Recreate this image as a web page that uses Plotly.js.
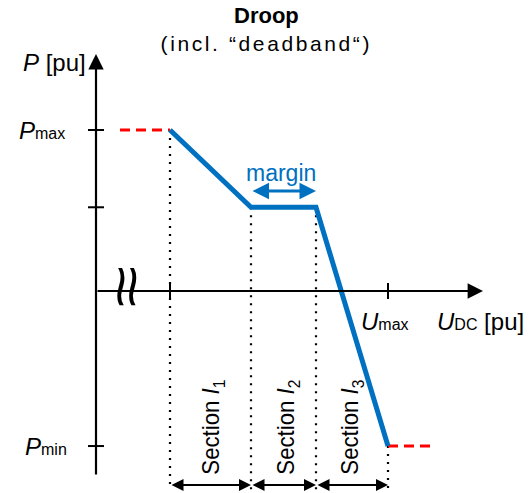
<!DOCTYPE html>
<html><head><meta charset="utf-8">
<script src="https://cdn.plot.ly/plotly-3.0.1.min.js"></script>
<style>html,body{margin:0;padding:0;background:#fff}#chart{width:531px;height:493px}</style>
</head><body><div id="chart"></div>
<script>
// ---- data (abstract units: U in 1/100 of axis span, P in pu of Pmax) ----
const uCorners = [0.74, 1.55, 2.20, 2.92];      // droop characteristic break points (U)
const pCorners = [1.0, 0.52, 0.52, -0.963];      // droop characteristic (P)
const pMax = 1.0, pMargin = 0.52, pMin = -0.963;
const uMax = 2.92;
const limitLeftU = [0.24, 0.74];                 // P = Pmax saturation
const limitRightU = [2.92, 3.39];                // P = Pmin saturation
const sectionNames = ['Section <i>I</i><sub>1</sub>', 'Section <i>I</i><sub>2</sub>', 'Section <i>I</i><sub>3</sub>'];
const sectionStart = [0.74, 1.55, 2.20];
const sectionEnd = [1.55, 2.20, 2.92];
const titleText = '<b>Droop</b>';
const subtitleText = '(incl. \u201Cdeadband\u201C)';

const FONT = 'Liberation Sans, Arial, sans-serif';
const BLUE = '#0070C0';
const RED = '#FF0000';

// axis extents
const uAxisEnd = 3.87, pAxisTop = 1.472, pAxisBottom = -1.149, dotBottom = -1.236, secArrowY = -1.205;

const traces = [];
// dotted guide lines
uCorners.forEach((u, i) => {
  traces.push({x: [u, u], y: [pCorners[i], dotBottom], mode: 'lines', hoverinfo: 'skip',
    line: {color: '#000', width: 2.2, dash: '2px,6px'}});
});
// red saturation limits
traces.push({x: limitLeftU, y: [pMax, pMax], mode: 'lines', line: {color: RED, width: 3, dash: '10px,6px'}});
traces.push({x: limitRightU, y: [pMin, pMin], mode: 'lines', line: {color: RED, width: 3, dash: '10px,6px'}});
// droop characteristic
traces.push({x: uCorners, y: pCorners, mode: 'lines', line: {color: BLUE, width: 5}});

const shapes = [];
// y-axis ticks
[pMax, pMargin, pMin].forEach(p => shapes.push({type: 'line', xref: 'x', yref: 'y', x0: -0.08, x1: 0.08, y0: p, y1: p, line: {color: '#000', width: 2}}));
// x-axis ticks
[uCorners[0], uMax].forEach(u => shapes.push({type: 'line', xref: 'x', yref: 'y', x0: u, x1: u, y0: -0.05, y1: 0.05, line: {color: '#000', width: 2}}));

const annotations = [];
function arrow(x, y, ax, ay, color, width, size, both) {
  annotations.push({x: x, y: y, ax: ax, ay: ay, xref: 'x', yref: 'y', axref: 'x', ayref: 'y', text: '',
    showarrow: true, arrowhead: 2, startarrowhead: 2, arrowside: both ? 'end+start' : 'end',
    arrowsize: size, startarrowsize: size, arrowwidth: width, arrowcolor: color});
}
// axes with arrowheads
arrow(0, pAxisTop, 0, pAxisBottom, '#000', 2.2, 1.4, false);
arrow(uAxisEnd, 0, 0, 0, '#000', 2.2, 1.4, false);
// margin arrow
arrow(uCorners[2], 0.621, uCorners[1], 0.621, BLUE, 3, 1.1, true);
// section arrows
sectionStart.forEach((s, i) => arrow(sectionEnd[i], secArrowY, s, secArrowY, '#000', 2, 1.2, true));

function label(text, x, y, xa, size, color, extra) {
  annotations.push(Object.assign({x: x, y: y, xref: 'x', yref: 'y', text: text, showarrow: false,
    xanchor: xa, yanchor: 'middle', font: {family: FONT, size: size, color: color || '#000'}}, extra || {}));
}
label('<i>P</i> [pu]', -0.08, 1.422, 'right', 24);
label('<i>P</i><span style="font-size:16px">max</span>', -0.29, pMax, 'right', 24);
label('<i>P</i><span style="font-size:16px">min</span>', -0.27, pMin, 'right', 24);
label('<i>U</i><span style="font-size:16px">max</span>', 2.63, -0.19, 'left', 24);
label('<i>U</i><span style="font-size:16px">DC</span> [pu]', 3.39, -0.19, 'left', 24);
label('margin', 1.85, 0.733, 'center', 23, BLUE);
label('\u2248', 0.32, 0.03, 'center', 52, '#000', {textangle: 90});
const secCenters = [1.17, 1.92, 2.56];
sectionNames.forEach((t, i) => label(t, secCenters[i], -0.848, 'center', 24, '#000', {textangle: -90}));
// titles
annotations.push({xref: 'paper', yref: 'paper', x: 0.501, y: 1 - 15/493, text: titleText, showarrow: false,
  xanchor: 'center', yanchor: 'middle', font: {family: FONT, size: 22, color: '#000'}});
annotations.push({xref: 'paper', yref: 'paper', x: 0.501, y: 1 - 44/493, text: subtitleText, showarrow: false,
  xanchor: 'center', yanchor: 'middle', font: {family: FONT, size: 21, color: '#000'}});

const layout = {
  width: 531, height: 493, margin: {l: 0, r: 0, t: 0, b: 0},
  paper_bgcolor: '#fff', plot_bgcolor: '#fff', showlegend: false,
  xaxis: {range: [-0.96, 4.35], visible: false, fixedrange: true},
  yaxis: {range: [-1.2547, 1.8075], visible: false, fixedrange: true},
  shapes: shapes, annotations: annotations
};
Plotly.newPlot('chart', traces, layout, {staticPlot: true}).then(() => {
  document.querySelectorAll('.annotation-text').forEach(t => {
    const s = t.textContent;
    if (s.indexOf('deadband') >= 0) t.style.letterSpacing = '2.6px';
    if (s.indexOf('Section') >= 0) {
      t.setAttribute('textLength', '95');
      t.setAttribute('lengthAdjust', 'spacingAndGlyphs');
    }
    if (s === '\u2248') {
      const b = t.getBBox();
      const cx = b.x + b.width / 2, cy = b.y + b.height / 2;
      const prev = t.getAttribute('transform') || '';
      t.setAttribute('transform', prev + ' translate(' + cx + ',' + cy + ') scale(1.45,1.1) translate(' + (-cx) + ',' + (-cy) + ')');
    }
  });
});
</script></body></html>
